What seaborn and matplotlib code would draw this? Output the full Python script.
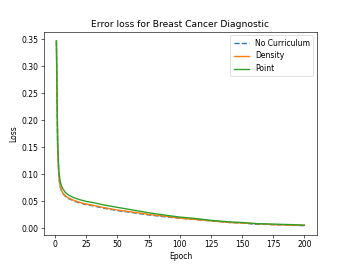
import numpy as np
import pandas as pd
import matplotlib
matplotlib.use('Agg')
import matplotlib.pyplot as plt
import seaborn as sns

epochs = [1, 2, 3, 4, 5, 6, 8, 10, 13, 16, 20, 25, 30, 40, 50, 60, 75, 90,
          100, 110, 125, 140, 150, 160, 175, 190, 200]
no_curriculum = [0.347, 0.148, 0.093, 0.077, 0.070, 0.065, 0.060, 0.056, 0.053,
                 0.050, 0.047, 0.044, 0.042, 0.037, 0.033, 0.030, 0.025, 0.021,
                 0.019, 0.017, 0.014, 0.011, 0.010, 0.008, 0.007, 0.006, 0.005]
density = [0.347, 0.150, 0.095, 0.078, 0.071, 0.066, 0.061, 0.057, 0.054,
           0.051, 0.048, 0.045, 0.043, 0.038, 0.034, 0.031, 0.026, 0.022,
           0.019, 0.017, 0.014, 0.011, 0.010, 0.009, 0.007, 0.006, 0.006]
point = [0.347, 0.160, 0.105, 0.088, 0.079, 0.074, 0.067, 0.063, 0.059,
         0.056, 0.053, 0.050, 0.048, 0.043, 0.039, 0.035, 0.029, 0.024,
         0.021, 0.019, 0.015, 0.012, 0.011, 0.009, 0.008, 0.007, 0.006]

fig, ax = plt.subplots(figsize=(6.4, 4.8), dpi=55)
sns.lineplot(x=epochs, y=no_curriculum, ax=ax, color='tab:blue', linestyle='--',
             linewidth=1.8, label='No Curriculum')
sns.lineplot(x=epochs, y=density, ax=ax, color='tab:orange', linewidth=1.8, label='Density')
sns.lineplot(x=epochs, y=point, ax=ax, color='tab:green', linewidth=1.8, label='Point')
ax.set_title('Error loss for Breast Cancer Diagnostic')
ax.set_xlabel('Epoch')
ax.set_ylabel('Loss')
ax.legend(loc='upper right')
plt.savefig('out.png', dpi=55)
